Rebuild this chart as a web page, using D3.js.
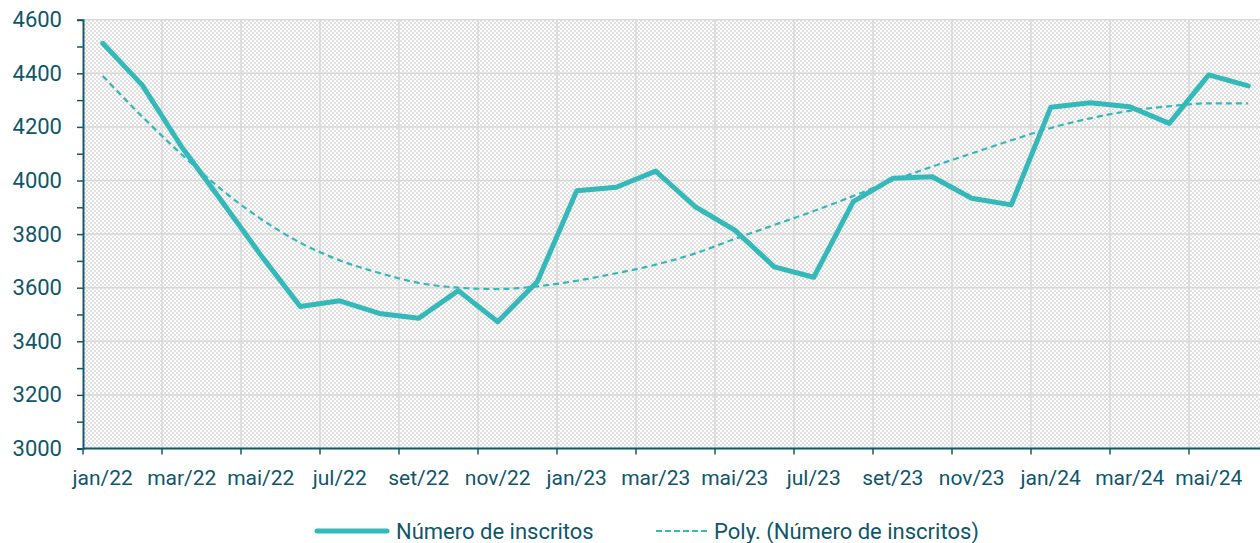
<!DOCTYPE html>
<html>
<head>
<meta charset="utf-8">
<script src="https://cdn.jsdelivr.net/npm/d3@7"></script>
<style>
  body { margin: 0; background: #fff; }
  svg { display: block; font-family: Roboto, "Noto Sans", sans-serif; }
</style>
</head>
<body>
<article></article>
<script>
const months = ['jan/22','fev/22','mar/22','abr/22','mai/22','jun/22','jul/22','ago/22','set/22','out/22','nov/22','dez/22',
    'jan/23','fev/23','mar/23','abr/23','mai/23','jun/23','jul/23','ago/23','set/23','out/23','nov/23','dez/23',
    'jan/24','fev/24','mar/24','abr/24','mai/24','jun/24']

const inscritos = [4512, 4356, 4125, 3925, 3722, 3530, 3551, 3504, 3486, 3589, 3473, 3622,
    3962, 3975, 4035, 3902, 3815, 3678, 3639, 3921, 4008, 4014, 3934, 3909,
    4273, 4290, 4275, 4213, 4394, 4353]

// trend line values (Poly.)
const tendencia = [4390, 4238, 4097, 3967, 3857, 3768, 3702, 3655, 3618, 3600, 3595, 3605,
    3626, 3654, 3686, 3728, 3782, 3834, 3886, 3942, 4000, 4052, 4101, 4150,
    4196, 4232, 4260, 4277, 4288, 4288]

const yTicks = [3000, 3100, 3200, 3300, 3400, 3500, 3600, 3700, 3800, 3900, 4000, 4100, 4200, 4300, 4400, 4500, 4600]

const legendNames = ['Número de inscritos', 'Poly. (Número de inscritos)']

const m = { width: 1260, height: 543 }
const plot = { left: 83, top: 19.7, bottom: 448.5, step: 39.5 }

const teal = '#33b9b9'
const axisColor = '#13596a'
const textColor = '#10566a'

const svg = d3.select('article').append('svg')
    .attr('width', m.width)
    .attr('height', m.height)

// checker hatch fill of plot area
const defs = svg.append('defs')
const pat = defs.append('pattern')
    .attr('id', 'hatch')
    .attr('patternUnits', 'userSpaceOnUse')
    .attr('width', 4)
    .attr('height', 4)
pat.append('rect').attr('width', 4).attr('height', 4).attr('fill', '#ffffff')
const cells = [[0,0],[2,2]]
cells.forEach(c => {
    pat.append('rect').attr('x', c[0]).attr('y', c[1]).attr('width', 2).attr('height', 2)
        .attr('fill', '#e0e0e0').attr('shape-rendering', 'crispEdges')
})

const x = d3.scaleBand()
    .domain(months)
    .range([plot.left, plot.left + months.length * plot.step])
    .padding(0)

const y = d3.scaleLinear()
    .domain([3000, 4600])
    .range([plot.bottom, plot.top])

const cx = d => x(d) + x.bandwidth() / 2

const g = svg.append('g')

g.append('rect')
    .attr('x', plot.left)
    .attr('y', plot.top)
    .attr('width', x.range()[1] - plot.left)
    .attr('height', plot.bottom - plot.top)
    .attr('fill', 'url(#hatch)')
    .attr('shape-rendering', 'crispEdges')

// gridlines
const majorY = yTicks.filter(v => v % 200 === 0)
g.selectAll('.hgrid')
    .data(majorY)
    .enter()
    .append('line')
    .attr('x1', plot.left)
    .attr('x2', x.range()[1])
    .attr('y1', d => y(d))
    .attr('y2', d => y(d))
    .attr('stroke', '#d9d9d9')
    .attr('stroke-width', 1.5)

const tickMonths = months.filter((d, i) => i % 2 === 0)
g.selectAll('.vgrid')
    .data(tickMonths.slice(1))
    .enter()
    .append('line')
    .attr('x1', d => x(d))
    .attr('x2', d => x(d))
    .attr('y1', plot.top)
    .attr('y2', plot.bottom)
    .attr('stroke', '#d9d9d9')
    .attr('stroke-width', 1.5)

// y axis
const yAxis = d3.axisLeft(y)
    .tickValues(yTicks)
    .tickSize(6)
    .tickPadding(15)
    .tickFormat(d => d % 200 === 0 ? d : '')

const ya = g.append('g')
    .attr('transform', `translate(${plot.left},0)`)
    .call(yAxis)
ya.select('.domain').attr('stroke', axisColor).attr('stroke-width', 2)
ya.selectAll('.tick line').attr('stroke', axisColor).attr('stroke-width', 1.5)
ya.selectAll('.tick text')
    .attr('fill', textColor)
    .style('font-size', '22px')
    .style('font-family', 'Roboto, sans-serif')

// x axis
g.append('line')
    .attr('x1', plot.left)
    .attr('x2', x.range()[1])
    .attr('y1', plot.bottom)
    .attr('y2', plot.bottom)
    .attr('stroke', axisColor)
    .attr('stroke-width', 2)

g.selectAll('.xtick')
    .data(tickMonths)
    .enter()
    .append('line')
    .attr('x1', d => x(d))
    .attr('x2', d => x(d))
    .attr('y1', plot.bottom)
    .attr('y2', plot.bottom + 6)
    .attr('stroke', axisColor)
    .attr('stroke-width', 1.5)

g.selectAll('.xlabel')
    .data(tickMonths)
    .enter()
    .append('text')
    .attr('x', d => cx(d))
    .attr('y', 485)
    .attr('text-anchor', 'middle')
    .attr('fill', textColor)
    .style('font-size', '21px')
    .text(d => d)

// trend line
const trendLine = d3.line()
    .x((d, i) => cx(months[i]))
    .y(d => y(d))
    .curve(d3.curveMonotoneX)

g.append('path')
    .datum(tendencia)
    .attr('d', trendLine)
    .attr('fill', 'none')
    .attr('stroke', teal)
    .attr('stroke-width', 2.2)
    .attr('stroke-dasharray', '6,4')

// data line
const dataLine = d3.line()
    .x((d, i) => cx(months[i]))
    .y(d => y(d))

g.append('path')
    .datum(inscritos)
    .attr('d', dataLine)
    .attr('fill', 'none')
    .attr('stroke', teal)
    .attr('stroke-width', 5)
    .attr('stroke-linejoin', 'round')
    .attr('stroke-linecap', 'round')

// legend
const leg = svg.append('g')
leg.append('line')
    .attr('x1', 317).attr('x2', 387)
    .attr('y1', 531).attr('y2', 531)
    .attr('stroke', teal)
    .attr('stroke-width', 5)
    .attr('stroke-linecap', 'round')
leg.append('text')
    .attr('x', 396).attr('y', 539)
    .attr('fill', textColor)
    .style('font-size', '22px')
    .text(legendNames[0])
leg.append('line')
    .attr('x1', 656).attr('x2', 708)
    .attr('y1', 531).attr('y2', 531)
    .attr('stroke', teal)
    .attr('stroke-width', 2.2)
    .attr('stroke-dasharray', '6,3')
leg.append('text')
    .attr('x', 714).attr('y', 539)
    .attr('fill', textColor)
    .style('font-size', '22px')
    .text(legendNames[1])
</script>
</body>
</html>
